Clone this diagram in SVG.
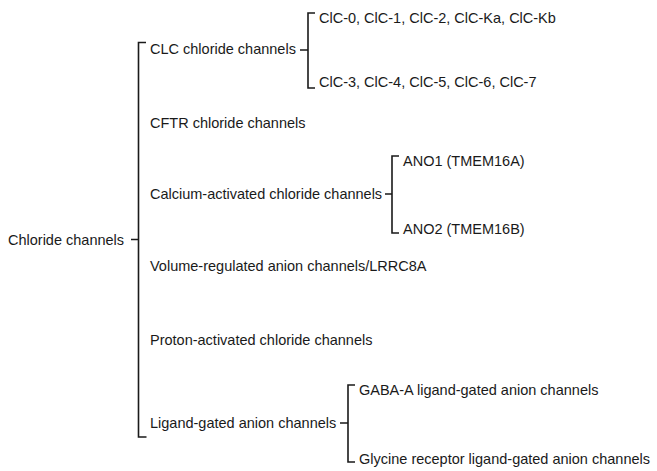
<svg xmlns="http://www.w3.org/2000/svg" width="657" height="471" viewBox="0 0 657 471">
  <style>
    text { font-family: "Liberation Sans", Arial, Helvetica, sans-serif; font-size: 14.5px; fill: #1a1a1a; }
    .br { fill: none; stroke: #1a1a1a; stroke-width: 1.6; stroke-linejoin: miter; stroke-linecap: butt; }
  </style>
  <rect width="657" height="471" fill="#ffffff"/>

  <!-- brackets joining each parent to its children -->
  <g id="connectors">
    <path class="br" d="M146,42.5 H138.5 V437 H146.5 M131,239.5 H138.5"/>
    <path class="br" d="M315,13 H308 V88 H315 M300,50 H308"/>
    <path class="br" d="M399,156 H392 V233 H399 M385,194 H392"/>
    <path class="br" d="M355,385 H348 V462 H355 M340,423 H348"/>
  </g>

  <g id="root"><text x="8" y="244.5">Chloride channels</text></g>

  <g id="clc"><text x="150" y="53.5">CLC chloride channels</text></g>
  <g id="clc-a"><text x="319" y="22.5">ClC-0, ClC-1, ClC-2, ClC-Ka, ClC-Kb</text></g>
  <g id="clc-b"><text x="319" y="86.5">ClC-3, ClC-4, ClC-5, ClC-6, ClC-7</text></g>

  <g id="cftr"><text x="150" y="127.5">CFTR chloride channels</text></g>

  <g id="cacc"><text x="150" y="199">Calcium-activated chloride channels</text></g>
  <g id="ano1"><text x="403" y="165.5">ANO1 (TMEM16A)</text></g>
  <g id="ano2"><text x="403" y="233.5">ANO2 (TMEM16B)</text></g>

  <g id="vrac"><text x="150" y="271">Volume-regulated anion channels/LRRC8A</text></g>

  <g id="pac"><text x="150" y="344.5">Proton-activated chloride channels</text></g>

  <g id="lgac"><text x="150" y="428">Ligand-gated anion channels</text></g>
  <g id="gaba"><text x="359" y="394.5">GABA-A ligand-gated anion channels</text></g>
  <g id="glyr"><text x="359" y="464">Glycine receptor ligand-gated anion channels</text></g>
</svg>
